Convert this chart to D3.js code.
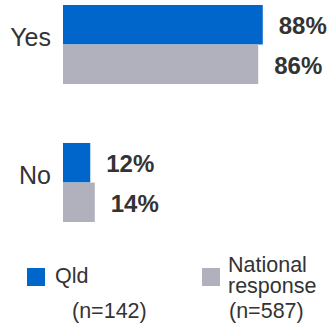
<!DOCTYPE html>
<html>
<head>
<meta charset="utf-8">
<script src="https://cdn.jsdelivr.net/npm/d3@7"></script>
<style>
  body { margin: 0; background: #fff; }
  text { font-family: "Liberation Sans", Arial, sans-serif; fill: #333; }
</style>
</head>
<body>
<script>
const categories = ["Yes", "No"];
const seriesNames = ["Qld", "National"];
const qldValues = [88, 12];
const nationalValues = [86, 14];
const legendLabels = [["Qld"], ["National", "response"]];
const sampleSizes = ["(n=142)", "(n=587)"];
const colors = ["#0066cc", "#b1b1bd"];

const width = 327;
const height = 327;

const svg = d3
  .select("body")
  .append("svg")
  .attr("width", width)
  .attr("height", height);

// Scales
const x = d3.scaleLinear().domain([0, 100]).range([63, 63 + 227]);
const y = d3.scaleBand().domain(categories).range([5, 222]).paddingInner(0.4275);
const ySub = d3.scaleBand().domain(seriesNames).range([0, y.bandwidth()]);

const rows = categories.map((c, i) => ({
  category: c,
  values: [
    { series: "Qld", value: qldValues[i], color: colors[0] },
    { series: "National", value: nationalValues[i], color: colors[1] },
  ],
}));

const groups = svg
  .selectAll(".group")
  .data(rows)
  .enter()
  .append("g")
  .attr("class", "group")
  .attr("transform", (d) => `translate(0,${y(d.category)})`);

// Bars
groups
  .selectAll("rect")
  .data((d) => d.values)
  .enter()
  .append("rect")
  .attr("x", x(0))
  .attr("y", (d) => ySub(d.series))
  .attr("width", (d) => x(d.value) - x(0))
  .attr("height", ySub.bandwidth())
  .attr("fill", (d) => d.color);

// Value labels
groups
  .selectAll(".value")
  .data((d) => d.values)
  .enter()
  .append("text")
  .attr("class", "value")
  .attr("x", (d) => x(d.value) + 16)
  .attr("y", (d) => ySub(d.series) + ySub.bandwidth() / 2 + 9.5)
  .style("font-size", "24px")
  .style("font-weight", "bold")
  .text((d) => d.value + "%");

// Category labels
groups
  .append("text")
  .attr("x", 51)
  .attr("y", y.bandwidth() / 2 + 1.5)
  .attr("text-anchor", "end")
  .style("font-size", "25px")
  .text((d) => d.category);

// Legend
const legendX = [27, 202];
const legend = svg
  .selectAll(".legend")
  .data(seriesNames)
  .enter()
  .append("g")
  .attr("class", "legend")
  .attr("transform", (d, i) => `translate(${legendX[i]},268)`);

legend
  .append("rect")
  .attr("width", 18)
  .attr("height", 18)
  .attr("fill", (d, i) => colors[i]);

legend.each(function (d, i) {
  const g = d3.select(this);
  const lines = legendLabels[i];
  const lx = i === 0 ? 28 : 26;
  const label = g
    .append("text")
    .attr("x", lx)
    .attr("y", lines.length === 1 ? 15 : 4)
    .style("font-size", "21.5px");
  lines.forEach((line, j) => {
    label
      .append("tspan")
      .attr("x", lx)
      .attr("dy", j === 0 ? 0 : 21)
      .text(line);
  });
  g.append("text")
    .attr("x", i === 0 ? 45 : 27)
    .attr("y", 50)
    .style("font-size", "21.5px")
    .text(sampleSizes[i]);
});
</script>
</body>
</html>
